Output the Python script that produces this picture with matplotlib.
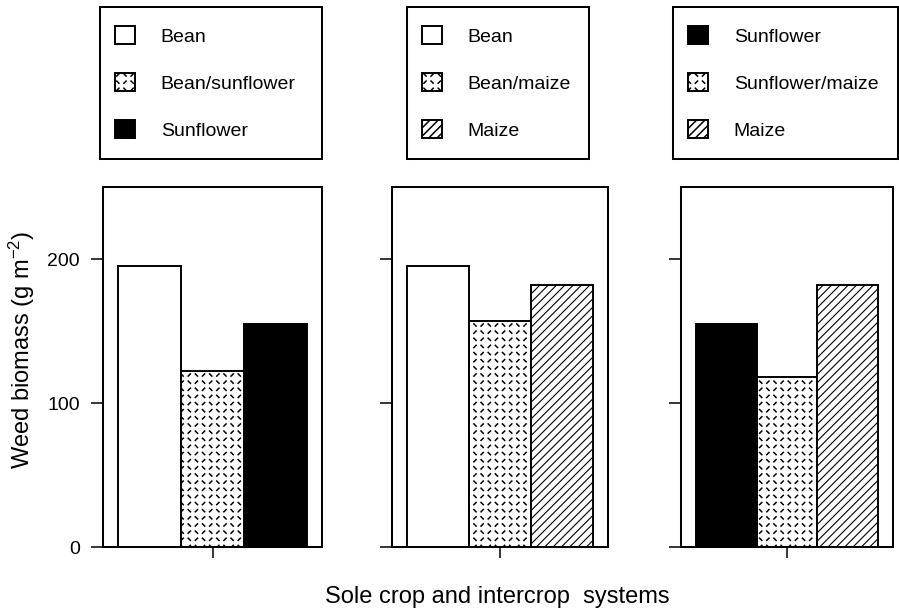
import matplotlib
matplotlib.use("Agg")
import matplotlib.pyplot as plt
import matplotlib.hatch as mhatch
from matplotlib.path import Path

# ---------------- data ----------------
p1_labels = ["Bean", "Bean/sunflower", "Sunflower"]
p1_values = [195, 122, 155]
p2_labels = ["Bean", "Bean/maize", "Maize"]
p2_values = [195, 157, 182]
p3_labels = ["Sunflower", "Sunflower/maize", "Maize"]
p3_values = [155, 118, 182]
y_ticks = [0, 100, 200]
y_ticklabels = ["0", "100", "200"]
x_label = "Sole crop and intercrop  systems"
y_label = "Weed biomass (g m$^{-2}$)"

# ---------------- custom dashed hatch ----------------
class DashLattice(mhatch.HatchPatternBase):
    N = 14

    def __init__(self, hatch, density):
        self.on = "*" in hatch
        self.num_vertices = 2 * self.N * self.N if self.on else 0

    def set_vertices_and_codes(self, vertices, codes):
        n = self.N
        step = 1.0 / n
        h = 0.011
        k = 0
        for i in range(n):
            for j in range(n):
                cx = (i + 0.5) * step
                cy = (j + 0.5) * step
                if (i + j) % 2 == 0:
                    p0, p1 = (cx - h, cy + h), (cx + h, cy - h)
                else:
                    p0, p1 = (cx - h, cy - h), (cx + h, cy + h)
                vertices[k] = p0
                vertices[k + 1] = p1
                codes[k] = Path.MOVETO
                codes[k + 1] = Path.LINETO
                k += 2

mhatch._hatch_types = [t for t in mhatch._hatch_types if t is not mhatch.Stars] + [DashLattice]

plt.rcParams["font.family"] = ["Liberation Sans", "DejaVu Sans"]
plt.rcParams["mathtext.fontset"] = "custom"
plt.rcParams["mathtext.rm"] = "Liberation Sans"
plt.rcParams["mathtext.it"] = "Liberation Sans:italic"
plt.rcParams["hatch.linewidth"] = 1.1

def style_for(label):
    if "/" in label:
        return dict(facecolor="white", hatch="*", hlw=1.1)
    if label == "Sunflower":
        return dict(facecolor="black", hatch=None, hlw=1.1)
    if label == "Maize":
        return dict(facecolor="white", hatch="////", hlw=0.8)
    return dict(facecolor="white", hatch=None, hlw=1.1)

W, H = 899, 609
fig = plt.figure(figsize=(W / 100, H / 100), dpi=100)

def fx(px):
    return px / W

def fy(py):
    return 1 - py / H

panels = [
    (p1_labels, p1_values, (103, 322), (100, 322), True),
    (p2_labels, p2_values, (392, 608), (407, 589), False),
    (p3_labels, p3_values, (681, 893), (673, 898), False),
]

ax_top, ax_bot = 187, 547
leg_top, leg_bot = 7, 159
spine_lw = 1.45

for labels, values, (x0, x1), (l0, l1), show_labels in panels:
    ax = fig.add_axes([fx(x0), fy(ax_bot), fx(x1 - x0), (ax_bot - ax_top) / H])
    xs = list(range(len(values)))
    handles = []
    for x, v, lab in zip(xs, values, labels):
        st = style_for(lab)
        b = ax.bar(x, v, width=1.0, facecolor=st["facecolor"], hatch=st["hatch"],
                   edgecolor="black", linewidth=1.4, label=lab)
        for p in b.patches:
            if hasattr(p, "set_hatch_linewidth"):
                p.set_hatch_linewidth(st["hlw"])
        handles.append(b)
    ax.set_xlim(-0.74, 2.74)
    ax.set_ylim(0, 250)
    ax.set_xticks([1])
    ax.set_xticklabels([])
    ax.set_yticks(y_ticks)
    if show_labels:
        ax.set_yticklabels(y_ticklabels, fontsize=14)
    else:
        ax.set_yticklabels([])
    ax.tick_params(axis="y", direction="out", length=8.5, width=1.1, pad=8)
    ax.tick_params(axis="x", direction="out", length=8, width=1.1)
    for s in ax.spines.values():
        s.set_linewidth(spine_lw)

    lax = fig.add_axes([fx(l0), fy(leg_bot), fx(l1 - l0), (leg_bot - leg_top) / H])
    lax.set_xticks([])
    lax.set_yticks([])
    for s in lax.spines.values():
        s.set_linewidth(spine_lw)
    lax.legend(handles, labels, loc="center left",
               bbox_to_anchor=(15 / (l1 - l0), 0.5), frameon=False,
               fontsize=14, handlelength=1.05, handleheight=1.05,
               handletextpad=1.3, labelspacing=1.42, borderpad=0, borderaxespad=0)

fig.text(fx(497), fy(603), x_label, ha="center", va="baseline", fontsize=17)
fig.text(fx(22), fy(350), y_label, rotation=90, ha="center", va="center", fontsize=17)

fig.savefig("out.png", dpi=100)
